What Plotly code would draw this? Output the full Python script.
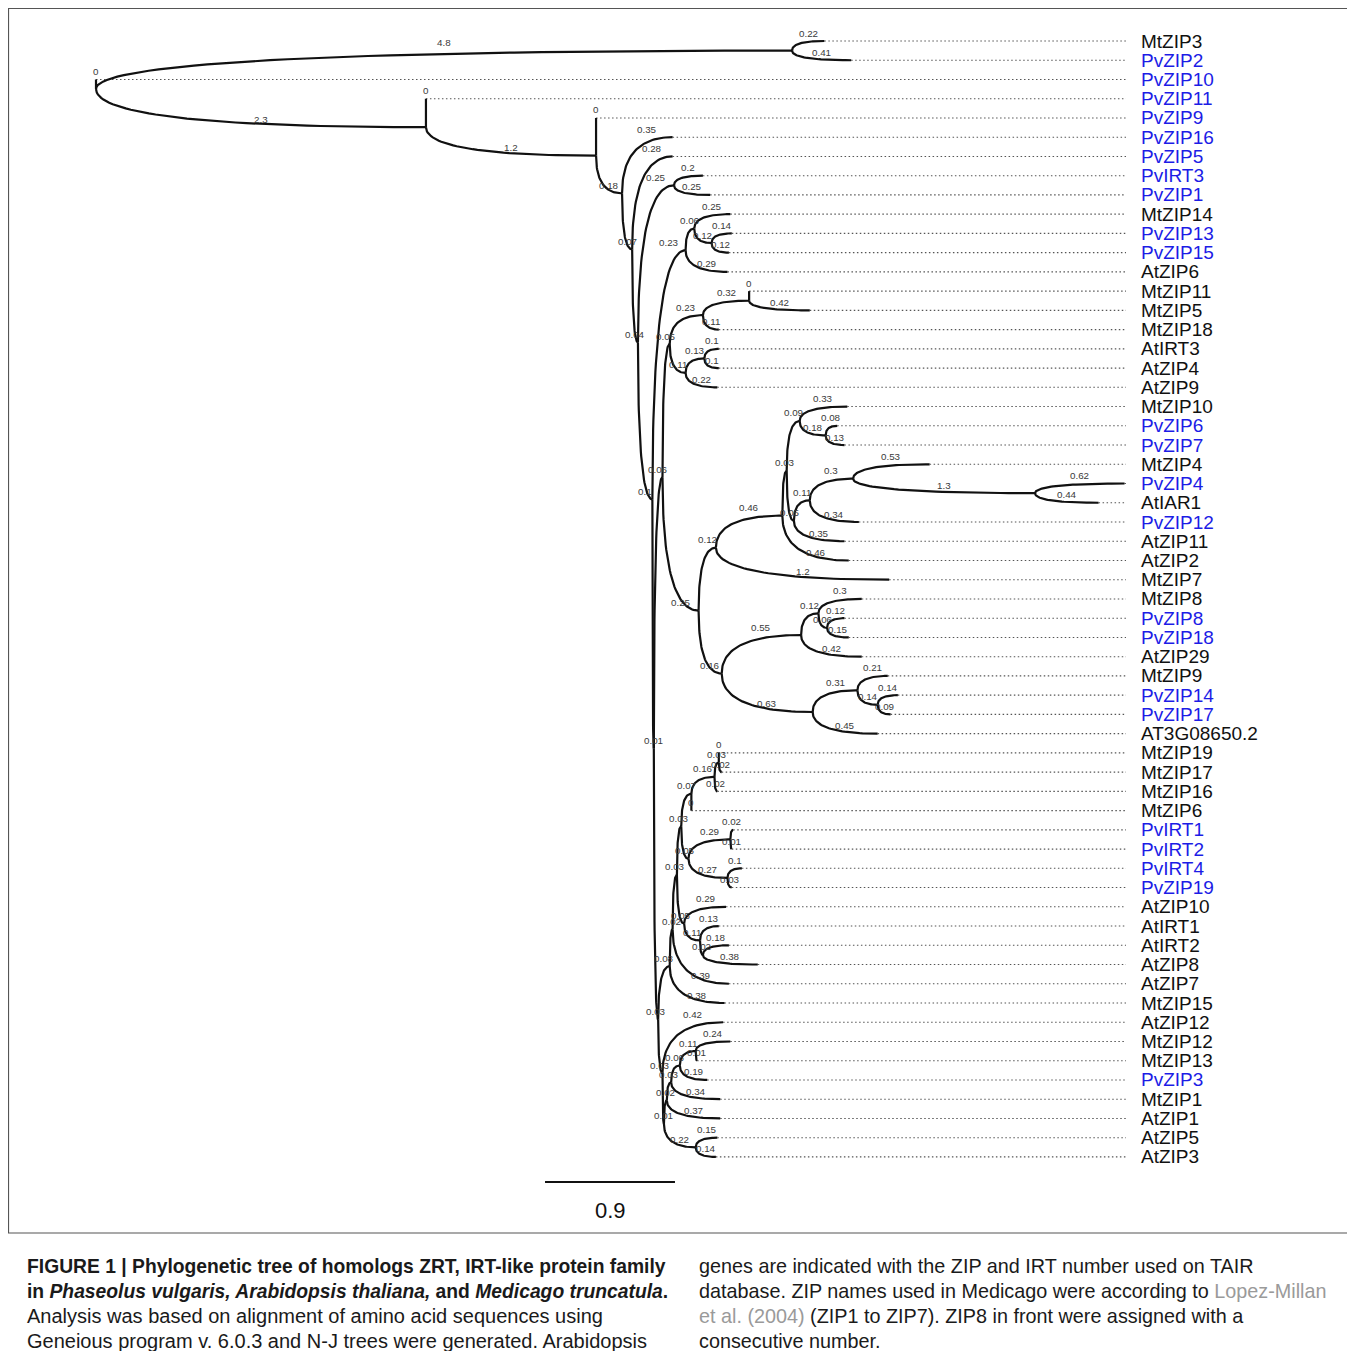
import plotly.graph_objects as go

# ---------------- data: tree topology (preorder), branch lengths ----------------
node_names = [
    "root", "_A", "MtZIP3", "PvZIP2", "PvZIP10", "_B", "PvZIP11", "_C", "PvZIP9", "_D",
    "PvZIP16", "_E", "PvZIP5", "_F", "_K1", "PvIRT3", "PvZIP1", "_G", "_K2", "_K3",
    "MtZIP14", "_K4", "PvZIP13", "PvZIP15", "AtZIP6", "_LL", "_JJ", "_P1", "_K5", "_K6",
    "MtZIP11", "MtZIP5", "MtZIP18", "_K7", "_K8", "AtIRT3", "AtZIP4", "AtZIP9", "_Q", "_R",
    "_T", "_CC", "_W", "MtZIP10", "_X", "PvZIP6", "PvZIP7", "_BB", "_AA", "_Y",
    "MtZIP4", "_Z", "PvZIP4", "AtIAR1", "PvZIP12", "AtZIP11", "AtZIP2", "MtZIP7", "_S", "_DD",
    "_FF", "MtZIP8", "_GG", "PvZIP8", "PvZIP18", "AtZIP29", "_EE", "_HH", "MtZIP9", "_II",
    "PvZIP14", "PvZIP17", "AT3G08650.2", "_MM", "_ZZ", "_YY", "_XX", "_TT", "_PP", "_NN",
    "_OO", "MtZIP19", "MtZIP17", "MtZIP16", "MtZIP6", "_SS", "_QQ", "PvIRT1", "PvIRT2", "_RR",
    "PvIRT4", "PvZIP19", "_WW", "AtZIP10", "_VV", "AtIRT1", "_UU", "AtIRT2", "AtZIP8", "AtZIP7",
    "MtZIP15", "_HHH", "AtZIP12", "_FFF", "_DDD", "_CCC", "_BBB", "_AAA", "MtZIP12", "MtZIP13",
    "PvZIP3", "MtZIP1", "AtZIP1", "_EEE", "AtZIP5", "AtZIP3",
]
node_parents = [
    None, "root", "_A", "_A", "root", "root", "_B", "_B", "_C", "_C",
    "_D", "_D", "_E", "_E", "_F", "_K1", "_K1", "_F", "_G", "_K2",
    "_K3", "_K3", "_K4", "_K4", "_K2", "_G", "_LL", "_JJ", "_P1", "_K5",
    "_K6", "_K6", "_K5", "_P1", "_K7", "_K8", "_K8", "_K7", "_JJ", "_Q",
    "_R", "_T", "_CC", "_W", "_W", "_X", "_X", "_CC", "_BB", "_AA",
    "_Y", "_Y", "_Z", "_Z", "_AA", "_BB", "_T", "_R", "_Q", "_S",
    "_DD", "_FF", "_FF", "_GG", "_GG", "_DD", "_S", "_EE", "_HH", "_HH",
    "_II", "_II", "_EE", "_LL", "_MM", "_ZZ", "_YY", "_XX", "_TT", "_PP",
    "_NN", "_OO", "_OO", "_NN", "_PP", "_TT", "_SS", "_QQ", "_QQ", "_SS",
    "_RR", "_RR", "_XX", "_WW", "_WW", "_VV", "_VV", "_UU", "_UU", "_YY",
    "_ZZ", "_MM", "_HHH", "_HHH", "_FFF", "_DDD", "_CCC", "_BBB", "_AAA", "_AAA",
    "_BBB", "_CCC", "_DDD", "_FFF", "_EEE", "_EEE",
]
branch_lengths = [
    0, 4.82, 0.224, 0.41, 0, 2.285, 0, 1.178, 0, 0.18,
    0.35, 0.07, 0.28, 0.04, 0.25, 0.2, 0.25, 0.1, 0.23, 0.06,
    0.25, 0.12, 0.14, 0.12, 0.29, 0.01, 0.06, 0.05, 0.23, 0.32,
    0, 0.42, 0.11, 0.11, 0.13, 0.1, 0.1, 0.22, 0.25, 0.12,
    0.46, 0.03, 0.09, 0.33, 0.18, 0.08, 0.13, 0.05, 0.11, 0.3,
    0.53, 1.26, 0.62, 0.44, 0.34, 0.35, 0.46, 1.2, 0.16, 0.55,
    0.12, 0.3, 0.06, 0.12, 0.15, 0.42, 0.63, 0.31, 0.21, 0.14,
    0.14, 0.09, 0.45, 0.03, 0.08, 0.02, 0.03, 0.03, 0.07, 0.16,
    0.03, 0, 0.02, 0.02, 0, 0.05, 0.29, 0.02, 0.01, 0.27,
    0.1, 0.03, 0.05, 0.29, 0.11, 0.13, 0.02, 0.18, 0.38, 0.39,
    0.38, 0.03, 0.42, 0.01, 0.02, 0.03, 0.06, 0.11, 0.24, 0.01,
    0.19, 0.34, 0.37, 0.22, 0.15, 0.14,
]
phaseolus_prefix = "Pv"
scale_bar_length = 0.9
scale_bar_label = "0.9"

caption_left = [
    "<b>FIGURE 1 | Phylogenetic tree of homologs ZRT, IRT-like protein family</b>",
    "<b>in <i>Phaseolus vulgaris, Arabidopsis thaliana,</i> and <i>Medicago truncatula</i>.</b>",
    "Analysis was based on alignment of amino acid sequences using",
    "Geneious program v. 6.0.3 and N-J trees were generated. Arabidopsis",
]
caption_right = [
    "genes are indicated with the ZIP and IRT number used on TAIR",
    "database. ZIP names used in Medicago were according to <span style='color:#9a9a9a'>Lopez-Millan</span>",
    "<span style='color:#9a9a9a'>et al. (2004)</span> (ZIP1 to ZIP7). ZIP8 in front were assigned with a",
    "consecutive number.",
]

# ---------------- layout constants (reference page pixels) ----------------
OFF = 8                      # page body margin of the browser
W, H = 1355 - OFF, 1359 - 2 * OFF
PX_PER_UNIT = 144.4
ROOT_PX = 96
ROW0_PX = 41
ROW_PX = 19.24
FONT = "Liberation Sans, Arial, sans-serif"

def ux(px):  # page pixel -> data x
    return (px - ROOT_PX) / PX_PER_UNIT

def uy(py):  # page pixel -> data y (row index)
    return (py - ROW0_PX) / ROW_PX

def pxp(px):
    return (px - OFF) / W

def pyp(py):
    return 1 - (py - OFF) / H

# ---------------- tree layout ----------------
parent = dict(zip(node_names, node_parents))
length = dict(zip(node_names, branch_lengths))
children = {n: [] for n in node_names}
for n, p in zip(node_names, node_parents):
    if p is not None:
        children[p].append(n)

xpos = {}
for n in node_names:
    p = parent[n]
    xpos[n] = 0.0 if p is None else xpos[p] + length[n]

leaves = [n for n in node_names if not children[n]]
ypos = {n: float(i) for i, n in enumerate(leaves)}
for n in reversed(node_names):
    if children[n]:
        ypos[n] = (ypos[children[n][0]] + ypos[children[n][-1]]) / 2.0

bx, by = [], []
NSEG = 40
for n in node_names:
    p = parent[n]
    if p is None:
        continue
    x0, y0, x1, y1 = xpos[p], ypos[p], xpos[n], ypos[n]
    for k in range(NSEG + 1):
        t = k / NSEG
        bx.append(x0 + t * t * (x1 - x0))
        by.append(y0 + (1 - (1 - t) ** 2) * (y1 - y0))
    bx.append(None)
    by.append(None)

dot_end = ux(1126)
dx, dy = [], []
for n in leaves:
    dx += [xpos[n], dot_end, None]
    dy += [ypos[n], ypos[n], None]

def fmt(v):
    if v >= 1:
        return f"{v:.2g}"
    s = f"{v:.2f}".rstrip("0").rstrip(".")
    return s if s else "0"

fig = go.Figure()
fig.add_trace(go.Scatter(x=dx, y=dy, mode="lines", hoverinfo="skip",
                         line=dict(color="#555555", width=1.1, dash="1.5px,2.5px")))
fig.add_trace(go.Scatter(x=bx, y=by, mode="lines", hoverinfo="skip",
                         line=dict(color="#111111", width=2.2)))

annotations = []
for n in node_names:
    p = parent[n]
    if p is None:
        continue
    annotations.append(dict(
        x=(xpos[p] + xpos[n]) / 2, y=ypos[n], xref="x", yref="y",
        text=fmt(length[n]), showarrow=False, yshift=8,
        xanchor="center", yanchor="middle",
        font=dict(family=FONT, size=9.8, color="#3a3a3a")))

for n in leaves:
    col = "#1c1ce6" if n.startswith(phaseolus_prefix) else "#111111"
    annotations.append(dict(
        x=ux(1139), y=ypos[n], xref="x", yref="y", text=n, showarrow=False,
        xanchor="left", yanchor="middle",
        font=dict(family=FONT, size=19, color=col)))

# scale bar
sb_center = ux(610)
sb_y = uy(1182)
annotations.append(dict(x=sb_center, y=uy(1210), xref="x", yref="y", text=scale_bar_label,
                        showarrow=False, xanchor="center", yanchor="middle",
                        font=dict(family=FONT, size=22, color="#111111")))

# caption
line_y = [1266, 1291, 1316, 1341]
for i, (txt, py) in enumerate(zip(caption_left, line_y)):
    size = 19.3 if i < 2 else 20
    annotations.append(dict(x=pxp(25), y=pyp(py), xref="paper", yref="paper", text=txt,
                            showarrow=False, xanchor="left", yanchor="middle",
                            font=dict(family=FONT, size=size, color="#1a1a1a")))
for txt, py in zip(caption_right, line_y):
    annotations.append(dict(x=pxp(697), y=pyp(py), xref="paper", yref="paper", text=txt,
                            showarrow=False, xanchor="left", yanchor="middle",
                            font=dict(family=FONT, size=19.8, color="#1a1a1a")))

shapes = [
    dict(type="line", xref="x", yref="y", x0=sb_center - scale_bar_length / 2,
         x1=sb_center + scale_bar_length / 2, y0=sb_y, y1=sb_y,
         line=dict(color="#111111", width=2.2)),
    dict(type="rect", xref="paper", yref="paper", x0=pxp(8.5), x1=pxp(1351.5),
         y0=pyp(1233), y1=pyp(8.5), line=dict(color="#555555", width=1.2)),
]

fig.update_layout(
    width=W, height=H, margin=dict(l=0, r=0, t=0, b=0),
    paper_bgcolor="white", plot_bgcolor="white", showlegend=False,
    xaxis=dict(range=[ux(OFF), ux(OFF + W)], visible=False, fixedrange=True),
    yaxis=dict(range=[uy(OFF + H), uy(OFF)], visible=False, fixedrange=True),
    annotations=annotations, shapes=shapes,
)
fig.write_html("out.html")
